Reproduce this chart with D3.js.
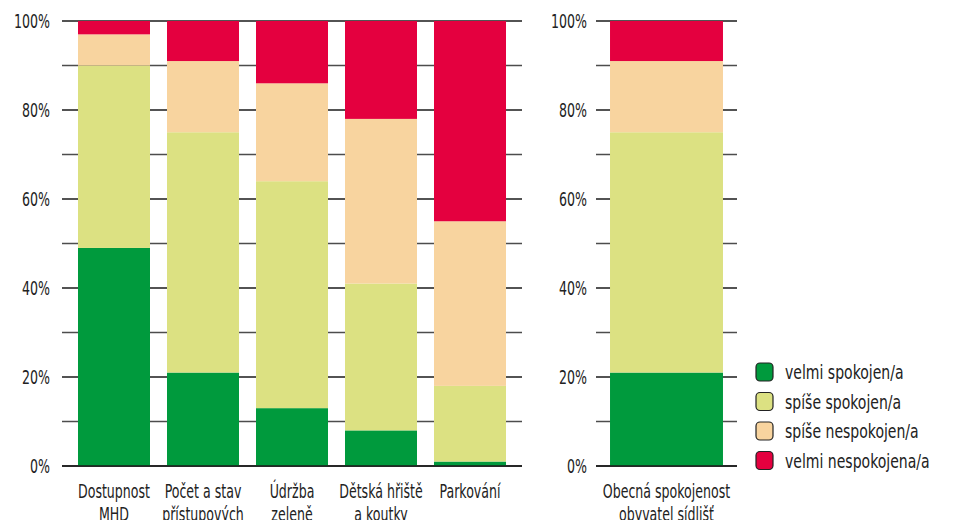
<!DOCTYPE html>
<html>
<head>
<meta charset="utf-8">
<script src="https://cdn.jsdelivr.net/npm/d3@7"></script>
<style>
  body { margin: 0; background: white; }
  svg { font-family: "DejaVu Sans Condensed", "DejaVu Sans", sans-serif; font-stretch: condensed; }
</style>
</head>
<body>
<svg id="chart" width="956" height="520"></svg>
<script>
// Data (percent)
var categories = ["Dostupnost MHD", "Počet a stav přístupových cest", "Údržba zeleně", "Dětská hřiště a koutky", "Parkování"];
var catLines = [["Dostupnost", "MHD"], ["Počet a stav", "přístupových", "cest"], ["Údržba", "zeleně"], ["Dětská hřiště", "a koutky"], ["Parkování"]];
var velmiSpokojen    = [49, 21, 13, 8, 1];
var spiseSpokojen    = [41, 54, 51, 33, 17];
var spiseNespokojen  = [7, 16, 22, 37, 37];
var velmiNespokojen  = [3, 9, 14, 22, 45];

var overallCategory = ["Obecná spokojenost obyvatel sídlišť"];
var overallLines = [["Obecná spokojenost", "obyvatel sídlišť"]];
var overallValues = [21, 54, 16, 9];

var seriesNames = ["velmi spokojen/a", "spíše spokojen/a", "spíše nespokojen/a", "velmi nespokojena/a"];
var colors = ["#009a3d", "#dce182", "#f8d49f", "#e4003f"];
var yTicks = [0, 20, 40, 60, 80, 100];
var yGrid = [0, 10, 20, 30, 40, 50, 60, 70, 80, 90, 100];

var svg = d3.select("#chart");
var y = d3.scaleLinear().domain([0, 100]).range([466, 21]);

// the original font is a narrow one, squeeze the text horizontally
function narrowText(parent, x, yy, sx) {
    return parent.append("text")
        .attr("transform", "translate(" + x + "," + yy + ") scale(" + sx + ",1)")
        .attr("fill", "#222");
}

function drawPanel(x0, x1, labelX, cats, lines, rows, padInner, padOuter) {
    var g = svg.append("g");
    var x = d3.scaleBand().domain(cats).range([x0, x1])
        .paddingInner(padInner).paddingOuter(padOuter);

    // grid lines behind bars
    g.selectAll(".grid").data(yGrid).enter().append("line")
        .attr("x1", x0).attr("x2", x1)
        .attr("y1", function(d) { return y(d); })
        .attr("y2", function(d) { return y(d); })
        .attr("stroke", function(d) { return d % 20 === 0 ? "#1a1a1a" : "#4d4d4d"; })
        .attr("stroke-width", 1.6);

    // tick labels
    yTicks.forEach(function(d) {
        narrowText(g, labelX, y(d), 0.7)
            .attr("dy", "0.36em").attr("text-anchor", "end")
            .attr("font-size", 20).text(d + "%");
    });

    // stacked bars
    var table = cats.map(function(c, i) {
        var o = { cat: c };
        rows.forEach(function(r, k) { o["s" + k] = r[i]; });
        return o;
    });
    var stack = d3.stack().keys(["s0", "s1", "s2", "s3"])(table);
    stack.forEach(function(layer, k) {
        g.selectAll(".b" + k).data(layer).enter().append("rect")
            .attr("x", function(d) { return x(d.data.cat); })
            .attr("width", x.bandwidth())
            .attr("y", function(d) { return y(d[1]); })
            .attr("height", function(d) { return y(d[0]) - y(d[1]); })
            .attr("fill", colors[k]);
    });

    // baseline on top
    g.append("line").attr("x1", x0).attr("x2", x1)
        .attr("y1", y(0)).attr("y2", y(0))
        .attr("stroke", "#1a1a1a").attr("stroke-width", 1.6);

    // category labels (bottom lines run off the page as in the original)
    cats.forEach(function(c, i) {
        var t = narrowText(g, x(c) + x.bandwidth() / 2, 498, 0.7)
            .attr("text-anchor", "middle").attr("font-size", 20);
        lines[i].forEach(function(l, j) {
            t.append("tspan").attr("x", 0)
                .attr("dy", j === 0 ? 0 : 23).text(l);
        });
    });
}

drawPanel(62, 522, 50, categories, catLines,
    [velmiSpokojen, spiseSpokojen, spiseNespokojen, velmiNespokojen], 17 / 89, 16 / 89);
drawPanel(596, 737, 587, overallCategory, overallLines,
    overallValues.map(function(v) { return [v]; }), 0, 17.5 / 141);

// legend
var legend = svg.append("g");
seriesNames.forEach(function(name, i) {
    var ly = 372 + i * 29.5;
    legend.append("rect").attr("x", 756).attr("y", ly - 9)
        .attr("width", 17).attr("height", 18).attr("rx", 4)
        .attr("fill", colors[i]).attr("stroke", "#222").attr("stroke-width", 1.2);
    narrowText(legend, 785, ly, 0.78).attr("dy", "0.36em")
        .attr("font-size", 20).text(name);
});
</script>
</body>
</html>
